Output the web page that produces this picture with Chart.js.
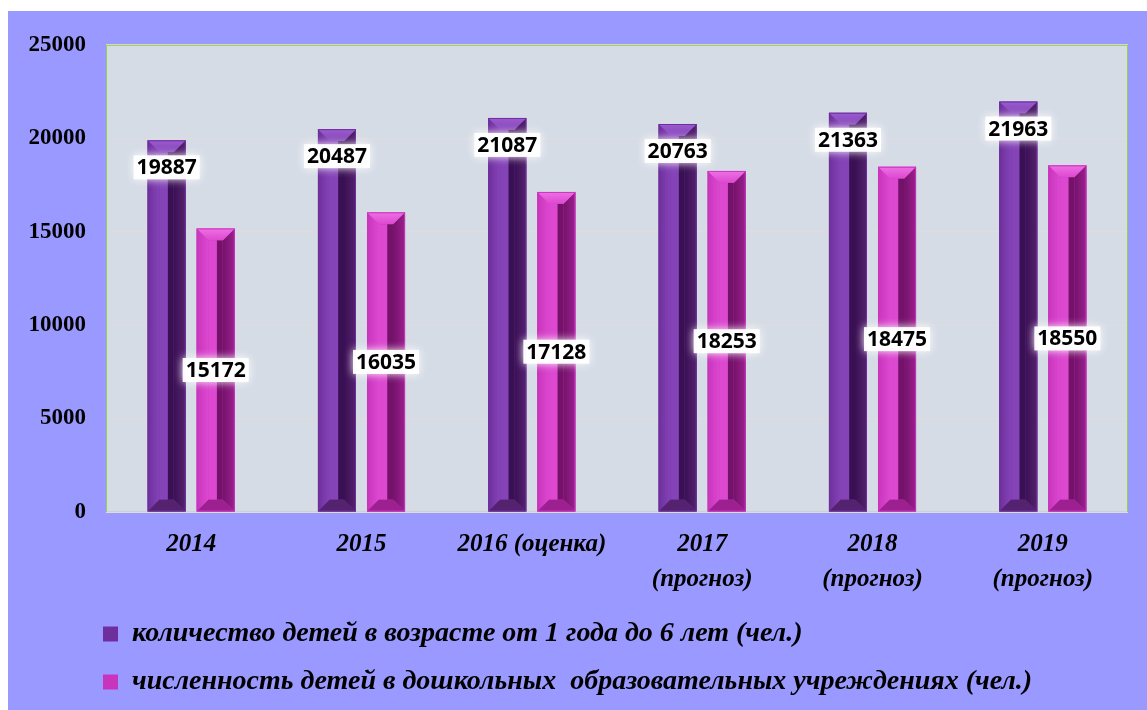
<!DOCTYPE html>
<html>
<head>
<meta charset="utf-8">
<script src="https://cdn.jsdelivr.net/npm/chart.js@4.4.1/dist/chart.umd.min.js"></script>
<style>
	html, body { margin: 0; padding: 0; background: #ffffff; }
	#wrap { position: absolute; left: 8px; top: 11px; width: 1139px; height: 699px; background: #9999ff; }
</style>
</head>
<body>
<div id="wrap"><canvas id="mycanvas"></canvas></div>
<script>
var years = [['2014'], ['2015'], ['2016 (оценка)'], ['2017', '(прогноз)'], ['2018', '(прогноз)'], ['2019', '(прогноз)']];
var childrenTotal = [19887, 20487, 21087, 20763, 21363, 21963];
var childrenInKindergarten = [15172, 16035, 17128, 18253, 18475, 18550];
var yTicks = [0, 5000, 10000, 15000, 20000, 25000];
var seriesNames = [
	'количество детей в возрасте от 1 года до 6 лет (чел.)',
	'численность детей в дошкольных  образовательных учреждениях (чел.)'
];

var serifFont = "'Times New Roman', 'Liberation Serif', serif";

// bevel shades for each series
var shades = [
	{ base: '#6e2f9c', light: '#8444b8', top: '#9a5ccf', dark: '#3a1054', bottom: '#55226f' },
	{ base: '#c934bc', light: '#dc48d0', top: '#ef70e4', dark: '#74126a', bottom: '#9c2090' }
];

// plot background + border
var plotArea = {
	id: 'plotArea',
	beforeDraw: function(chart) {
		var a = chart.chartArea, ctx = chart.ctx;
		ctx.save();
		ctx.fillStyle = '#d6dce6';
		ctx.fillRect(a.left, a.top, a.right - a.left, a.bottom - a.top);
		ctx.restore();
	},
	beforeDatasetsDraw: function(chart) {
		var a = chart.chartArea, ctx = chart.ctx;
		ctx.save();
		ctx.strokeStyle = '#92d050';
		ctx.lineWidth = 1;
		ctx.strokeRect(a.left + 0.5, a.top + 0.5, a.right - a.left - 1, a.bottom - a.top - 1);
		ctx.strokeStyle = '#cfcfd6';
		ctx.beginPath();
		ctx.moveTo(a.left + 1, a.bottom - 0.5);
		ctx.lineTo(a.right - 1, a.bottom - 0.5);
		ctx.stroke();
		ctx.restore();
	}
};

function poly(ctx, pts, fill) {
	ctx.beginPath();
	ctx.moveTo(pts[0][0], pts[0][1]);
	for (var i = 1; i < pts.length; i++) ctx.lineTo(pts[i][0], pts[i][1]);
	ctx.closePath();
	ctx.fillStyle = fill;
	ctx.fill();
}

// bevelled bars and value boxes
var barDecor = {
	id: 'barDecor',
	afterDatasetsDraw: function(chart) {
		var ctx = chart.ctx;
		chart.data.datasets.forEach(function(ds, di) {
			var meta = chart.getDatasetMeta(di);
			var s = shades[di];
			meta.data.forEach(function(bar, i) {
				var p = bar.getProps(['x', 'y', 'base', 'width'], true);
				var l = p.x - p.width / 2, r = p.x + p.width / 2, t = p.y, bt = p.base;
				var b = 12;
				ctx.save();
				var gl = ctx.createLinearGradient(l, 0, l + b, 0);
				gl.addColorStop(0, s.base);
				gl.addColorStop(1, s.light);
				poly(ctx, [[l, t], [l + b, t + b], [l + b, bt - b], [l, bt]], gl);
				var gr = ctx.createLinearGradient(r - b, 0, r, 0);
				gr.addColorStop(0, s.dark);
				gr.addColorStop(1, s.bottom);
				poly(ctx, [[r, t], [r - b, t + b], [r - b, bt - b], [r, bt]], gr);
				var gt = ctx.createLinearGradient(0, t, 0, t + b);
				gt.addColorStop(0, s.top);
				gt.addColorStop(1, s.light);
				poly(ctx, [[l, t], [r, t], [r - b, t + b], [l + b, t + b]], gt);
				poly(ctx, [[l, bt], [r, bt], [r - b, bt - b], [l + b, bt - b]], s.bottom);
				var gf = ctx.createLinearGradient(l + b, 0, r - b, 0);
				gf.addColorStop(0, s.light);
				gf.addColorStop(0.55, s.light);
				gf.addColorStop(0.62, s.dark);
				gf.addColorStop(1, s.dark);
				ctx.fillStyle = gf;
				ctx.fillRect(l + b, t + b, r - l - 2 * b, bt - t - 2 * b);
				ctx.strokeStyle = s.base;
				ctx.lineWidth = 1;
				ctx.strokeRect(l + 0.5, t + 0.5, r - l - 1, bt - t - 1);
				ctx.restore();
			});
		});
		// value labels
		ctx.save();
		ctx.font = "bold 21px 'Open Sans', 'Liberation Sans', sans-serif";
		ctx.textAlign = 'center';
		ctx.textBaseline = 'middle';
		chart.data.datasets.forEach(function(ds, di) {
			var meta = chart.getDatasetMeta(di);
			meta.data.forEach(function(bar, i) {
				var p = bar.getProps(['x', 'y', 'base'], true);
				var txt = String(ds.data[i]);
				var cy = di === 0 ? p.y + 27 : (p.y + p.base) / 2;
				var w = ctx.measureText(txt).width + 6, h = 24;
				ctx.shadowColor = '#ffffff';
				ctx.shadowBlur = 8;
				ctx.fillStyle = 'rgba(255,255,255,0.95)';
				ctx.fillRect(p.x - w / 2, cy - h / 2, w, h);
				ctx.shadowBlur = 0;
				ctx.fillStyle = '#000000';
				ctx.fillText(txt, p.x, cy + 1);
			});
		});
		ctx.restore();
	}
};

// move the legend block under the plot like in the original
var legendShift = {
	id: 'legendShift',
	afterLayout: function(chart) {
		chart.legend.left += 75;
		chart.legend.top -= 4;
	}
};

var chartdata = {
	labels: years,
	datasets: [
		{
			label: seriesNames[0],
			backgroundColor: shades[0].base,
			data: childrenTotal
		},
		{
			label: seriesNames[1],
			backgroundColor: shades[1].base,
			data: childrenInKindergarten
		}
	]
};

var ctx = document.getElementById('mycanvas');

var barGraph = new Chart(ctx, {
	type: 'bar',
	data: chartdata,
	plugins: [plotArea, barDecor, legendShift],
	options: {
		responsive: true,
		maintainAspectRatio: false,
		animation: false,
		layout: { padding: { top: 29, right: 19, left: 0, bottom: 0 } },
		datasets: {
			bar: { categoryPercentage: 0.576, barPercentage: 0.776 }
		},
		plugins: {
			tooltip: { enabled: false },
			legend: {
				position: 'bottom',
				align: 'start',
				labels: {
					boxWidth: 15,
					boxHeight: 15,
					padding: 20,
					color: '#000000',
					font: { family: serifFont, size: 28, weight: 'bold', style: 'italic' }
				}
			}
		},
		scales: {
			x: {
				grid: { display: false, drawTicks: false },
				border: { display: false },
				ticks: {
					color: '#000000',
					padding: 15,
					maxRotation: 0,
					autoSkip: false,
					font: { family: serifFont, size: 25, weight: 'bold', style: 'italic', lineHeight: 1.4 }
				},
				afterFit: function(axis) { axis.height = 92; }
			},
			y: {
				min: 0,
				max: 25000,
				grid: { color: '#e3dbdb', drawTicks: false },
				border: { display: false },
				ticks: {
					color: '#000000',
					padding: 20,
					font: { family: serifFont, size: 23, weight: 'bold' },
					callback: function(value) { return String(value); }
				},
				afterBuildTicks: function(axis) {
					axis.ticks = yTicks.map(function(v) { return { value: v }; });
				},
				afterFit: function(axis) { axis.width = 98; }
			}
		}
	}
});
</script>
</body>
</html>
